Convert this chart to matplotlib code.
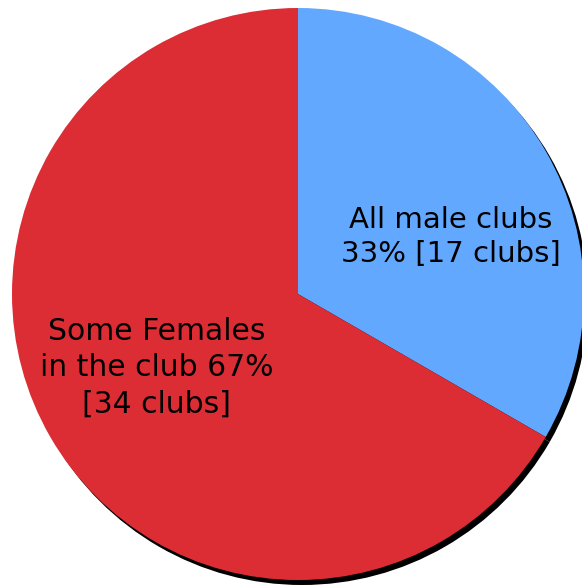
import matplotlib
matplotlib.use('Agg')
import matplotlib.pyplot as plt

labels = ['All male clubs', 'Some Females\nin the club']
clubs = [17, 34]
colors = ['#62a8ff', '#dc2d35']

total = sum(clubs)
texts = ['%s\n%d%% [%d clubs]' % (labels[0], round(100 * clubs[0] / total), clubs[0]),
         '%s %d%%\n[%d clubs]' % (labels[1], round(100 * clubs[1] / total), clubs[1])]

fig = plt.figure(figsize=(5.82, 5.86), dpi=100)
ax = fig.add_axes([0, 0, 1, 1])

cx, cy, r = 298, 292, 286

# shadow
ax.pie(clubs, colors=['black', 'black'], startangle=90, counterclock=False,
       radius=r, center=(cx + 4, cy - 5), frame=True)
ax.pie(clubs, colors=colors, startangle=90, counterclock=False,
       radius=r, center=(cx, cy), frame=True,
       wedgeprops=dict(linewidth=0))
ax.set_xlim(0, 582)
ax.set_ylim(0, 586)
ax.set_aspect('equal')
ax.axis('off')

ax.text(451, 586 - 237, texts[0], ha='center', va='center', fontsize=21,
        family='DejaVu Sans', linespacing=1.25)
ax.text(157, 586 - 368, texts[1], ha='center', va='center', fontsize=21.5,
        family='DejaVu Sans', linespacing=1.32)

fig.savefig('out.png', dpi=100)
